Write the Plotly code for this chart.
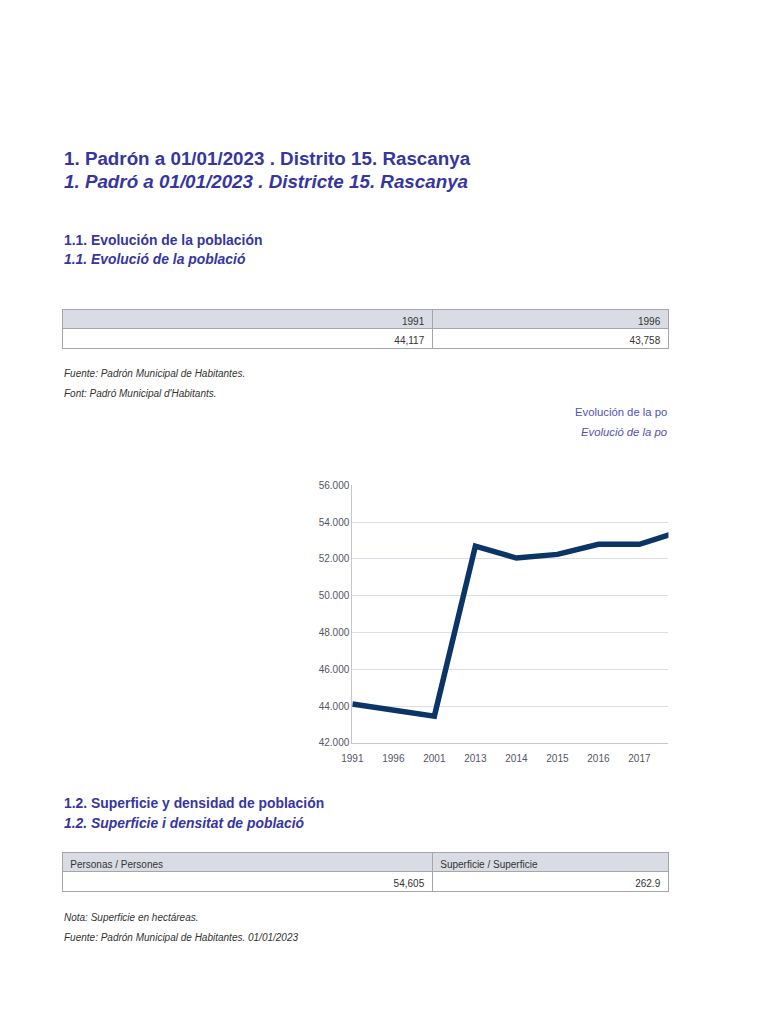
"""
Padrón 01/01/2023 - Distrito 15. Rascanya : página con tablas y evolución de la población
"""

import plotly.graph_objects as go

# ── datos ─────────────────────────────────────────────────────────────
YEARS      = ["1991", "1996", "2001", "2013", "2014", "2015", "2016", "2017", "2018"]
POPULATION = [44117, 43758, 43450, 52700, 52050, 52250, 52800, 52800, 53500]

TABLE1_HEAD = ["1991", "1996"]
TABLE1_VALS = ["44,117", "43,758"]

TABLE2_HEAD = ["Personas / Persones", "Superficie / Superficie"]
TABLE2_VALS = ["54,605", "262.9"]

# ── estilo ────────────────────────────────────────────────────────────
W, H      = 752, 1008
FONT      = "Liberation Sans, Arial, sans-serif"
TITLE_COL = "#3636a0"
SUB_COL   = "#5252b4"
NOTE_COL  = "#333333"
HEAD_FILL = "#d9dce4"
BORDER    = "#a6a6a6"
LINE_COL  = "#0b3566"

# posición medida en la captura -> píxel de la figura (desfase y escala de la página)
OFF_X, SCALE_X = 18.8, 0.985
OFF_Y, SCALE_Y = 13.6, 0.988


def fx(x):
    return (x - OFF_X) / SCALE_X / W


def fy(y):
    return 1 - (y - OFF_Y) / SCALE_Y / H


fig = go.Figure()

# ── gráfico de líneas ─────────────────────────────────────────────────
fig.add_trace(go.Scatter(
    x=YEARS, y=POPULATION,
    mode="lines",
    line=dict(color=LINE_COL, width=5.5),
    hoverinfo="x+y",
))

# ── tablas ────────────────────────────────────────────────────────────
def add_table(head, vals, top, head_align, widths):
    fig.add_trace(go.Table(
        domain=dict(x=[fx(62), fx(668)], y=[fy(top + 60), fy(top)]),
        columnwidth=widths,
        header=dict(
            values=head, align=head_align, height=19,
            fill_color=HEAD_FILL, line_color=BORDER,
            font=dict(family=FONT, size=10, color=NOTE_COL),
        ),
        cells=dict(
            values=[[v] for v in vals], align="right", height=20,
            fill_color="white", line_color=BORDER,
            font=dict(family=FONT, size=10, color=NOTE_COL),
        ),
    ))


add_table(TABLE1_HEAD, TABLE1_VALS, 309, "right", [370, 236])
add_table(TABLE2_HEAD, TABLE2_VALS, 851, "left", [370, 236])

# ── textos ────────────────────────────────────────────────────────────
texts = [
    # (x, y, texto, tamaño, color, negrita, cursiva, ancla)
    (62, 159, "1. Padrón a 01/01/2023 . Distrito 15. Rascanya", 18.8, TITLE_COL, True, False, "left"),
    (62, 182, "1. Padró a 01/01/2023 . Districte 15. Rascanya", 18.8, TITLE_COL, True, True, "left"),
    (62, 240, "1.1. Evolución de la población", 13.9, TITLE_COL, True, False, "left"),
    (62, 259, "1.1. Evolució de la població", 13.9, TITLE_COL, True, True, "left"),
    (62, 373, "Fuente: Padrón Municipal de Habitantes.", 10, NOTE_COL, False, True, "left"),
    (62, 393, "Font: Padró Municipal d'Habitants.", 10, NOTE_COL, False, True, "left"),
    (669, 412, "Evolución de la po", 11.3, SUB_COL, False, False, "right"),
    (669, 432, "Evolució de la po", 11.3, SUB_COL, False, True, "right"),
    (62, 802, "1.2. Superficie y densidad de población", 13.9, TITLE_COL, True, False, "left"),
    (62, 822, "1.2. Superficie i densitat de població", 13.9, TITLE_COL, True, True, "left"),
    (62, 916, "Nota: Superficie en hectáreas.", 10, NOTE_COL, False, True, "left"),
    (62, 936, "Fuente: Padrón Municipal de Habitantes. 01/01/2023", 10, NOTE_COL, False, True, "left"),
]

for x, y, t, size, color, bold, italic, anchor in texts:
    if bold:
        t = f"<b>{t}</b>"
    if italic:
        t = f"<i>{t}</i>"
    fig.add_annotation(
        x=fx(x), y=fy(y), xref="paper", yref="paper",
        text=t, showarrow=False,
        xanchor=anchor, yanchor="middle",
        font=dict(family=FONT, size=size, color=color),
    )

# ── layout ────────────────────────────────────────────────────────────
fig.update_layout(
    width=W, height=H,
    margin=dict(l=0, r=0, t=0, b=0),
    paper_bgcolor="white",
    plot_bgcolor="white",
    showlegend=False,
    separators=",.",
    font=dict(family=FONT, size=10, color="#555566"),
    xaxis=dict(
        domain=[fx(352), fx(668)],
        type="category",
        range=[0, (668 - 352) / 41],
        showgrid=False, zeroline=False,
        showline=True, linecolor="#c2c5d6", linewidth=1,
        ticks="outside", ticklen=6, tickcolor="rgba(0,0,0,0)",
        tickfont=dict(size=10, color="#555566"),
    ),
    yaxis=dict(
        domain=[fy(742), fy(485)],
        range=[42000, 56000], dtick=2000,
        tickformat=",d",
        showgrid=True, gridcolor="#dcdde8", gridwidth=1,
        zeroline=False,
        showline=True, linecolor="#c2c5d6", linewidth=1,
        ticks="", tickfont=dict(size=10, color="#555566"),
    ),
)

fig.write_html("out.html")
